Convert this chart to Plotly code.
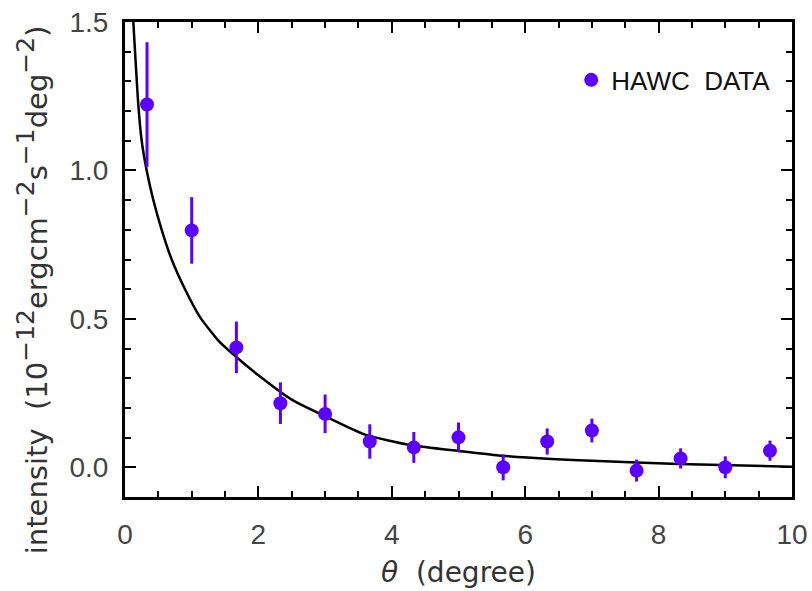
import plotly.graph_objects as go

# HAWC data points
theta = [0.33, 1.0, 1.67, 2.33, 3.0, 3.67, 4.33, 5.0, 5.67, 6.33, 7.0, 7.67, 8.33, 9.0, 9.67]
intensity = [1.222, 0.798, 0.404, 0.216, 0.180, 0.087, 0.067, 0.101, 0.0, 0.087, 0.124, -0.011, 0.030, 0.0, 0.056]
err = [0.21, 0.112, 0.087, 0.07, 0.065, 0.058, 0.052, 0.05, 0.044, 0.044, 0.04, 0.037, 0.034, 0.037, 0.034]

# model curve
curve_x = [0.125, 0.2, 0.25, 0.325, 0.425, 0.55, 0.70, 0.90, 1.125, 1.40, 1.6, 2.0, 2.5, 3.0, 3.6,
           4.3, 5.0, 5.6, 6.4, 7.0, 8.3, 10.0]
curve_y = [1.50, 1.22, 1.10, 1.00, 0.90, 0.80, 0.70, 0.60, 0.506, 0.427, 0.385, 0.31, 0.228, 0.172,
           0.110, 0.074, 0.055, 0.040, 0.028, 0.022, 0.011, 0.002]

x_ticks = [0, 2, 4, 6, 8, 10]
y_ticks = [0.0, 0.5, 1.0, 1.5]

PURPLE = "#5B00FF"
FONT = "Liberation Sans"
TFONT = "DejaVu Sans"

fig = go.Figure()
fig.add_trace(go.Scatter(
    x=curve_x, y=curve_y, mode="lines", line=dict(color="black", width=2.5, shape="spline", smoothing=0.6),
    showlegend=False, hoverinfo="skip"))
fig.add_trace(go.Scatter(
    x=theta, y=intensity, mode="markers", name="HAWC\u00a0\u00a0DATA",
    marker=dict(color=PURPLE, size=14),
    error_y=dict(type="data", array=err, color=PURPLE, thickness=3, width=0),
    showlegend=True))

axis_common = dict(
    showline=True, linecolor="black", linewidth=3, mirror="allticks",
    ticks="inside", ticklen=11, tickwidth=2, tickcolor="black",
    showgrid=False, zeroline=False, automargin=False,
    tickfont=dict(family=FONT, size=28, color="#444444"),
)

fig.update_xaxes(range=[0, 10], tickvals=x_ticks, ticktext=[str(v) for v in x_ticks],
                 minor=dict(dtick=0.5, ticks="inside", ticklen=6, tickwidth=2, tickcolor="black"),
                 ticklabelstandoff=10,
                 **axis_common)
fig.update_yaxes(range=[-0.1, 1.5], tickvals=y_ticks, ticktext=[f"{v:.1f}" for v in y_ticks],
                 minor=dict(dtick=0.1, ticks="inside", ticklen=6, tickwidth=2, tickcolor="black"),
                 ticklabelstandoff=8, ticklabeloverflow="allow",
                 **axis_common)

sup = lambda s: f"<sup><span style='font-size:25px'>{s}</span></sup>"
ytitle = ("intensity\u00a0\u00a0(10" + sup("\u221212") + "ergcm" + sup("\u22122") + "s" + sup("\u22121")
          + "deg" + sup("\u22122") + ")")
fig.add_annotation(
    text=ytitle, xref="paper", yref="paper", x=-0.139, y=0.436, xanchor="center", yanchor="middle",
    textangle=-90, showarrow=False, font=dict(family=TFONT, size=29, color="#333333"))

fig.add_annotation(
    text="<i>θ</i>\u00a0\u00a0(degree)", xref="paper", yref="paper", x=0.5, y=-0.158,
    xanchor="center", yanchor="middle", showarrow=False,
    font=dict(family=TFONT, size=28, color="#333333"))

fig.update_layout(
    width=812, height=591,
    margin=dict(l=125, r=20, t=22, b=94),
    paper_bgcolor="white", plot_bgcolor="white",
    legend=dict(x=0.669, y=0.878, xanchor="left", yanchor="middle", bgcolor="rgba(0,0,0,0)",
                font=dict(family=FONT, size=26, color="#111111"), itemwidth=30),
)

# remove the default 8px page margin so the figure fills the window exactly
fig.write_html("out.html", config={"displayModeBar": False},
               post_script="document.body.style.margin='0';document.body.style.overflow='hidden';")
